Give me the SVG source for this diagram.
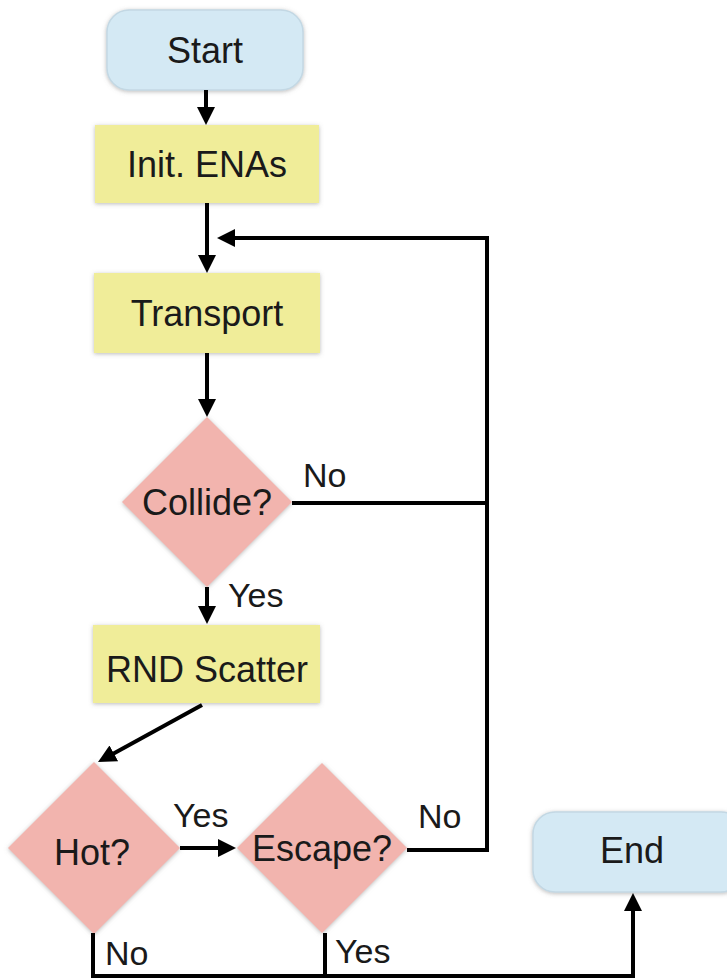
<svg xmlns="http://www.w3.org/2000/svg" width="727" height="980" viewBox="0 0 727 980">
<style>
.t{font-family:"Liberation Sans",Arial,sans-serif;font-size:36px;fill:#1a1a1a;text-anchor:middle}
.l{font-family:"Liberation Sans",Arial,sans-serif;font-size:34px;fill:#1a1a1a}
.term{fill:#d4e9f4;stroke:#c3d8e4;stroke-width:1.5;filter:url(#sh)}
.proc{fill:#f0ed99;filter:url(#sh)}
.dec{fill:#f2b4ae;filter:url(#sh)}
.c{fill:none;stroke:#000;stroke-width:4}
.a{marker-end:url(#ah)}
</style>
<defs>
<filter id="sh" x="-10%" y="-10%" width="120%" height="120%">
<feDropShadow dx="0" dy="1" stdDeviation="2" flood-color="#777" flood-opacity="0.5"/>
</filter>
<marker id="ah" markerUnits="userSpaceOnUse" markerWidth="18" markerHeight="18" viewBox="0 0 18 18" refX="9" refY="9" orient="auto">
<path d="M0,0 L18,9 L0,18 z" fill="#000"/>
</marker>
</defs>
<g id="start"><rect class="term" x="107" y="10" width="196" height="80" rx="22"/><text class="t" x="205" y="63">Start</text></g>
<g id="init"><rect class="proc" x="95" y="125" width="224" height="78"/><text class="t" x="207" y="177">Init. ENAs</text></g>
<g id="transport"><rect class="proc" x="94" y="273" width="226" height="80"/><text class="t" x="207" y="326">Transport</text></g>
<g id="collide"><polygon class="dec" points="207,417 292,502 207,587 122,502"/><text class="t" x="207" y="515">Collide?</text></g>
<g id="scatter"><rect class="proc" x="93" y="625" width="227" height="78"/><text class="t" x="207" y="682">RND Scatter</text></g>
<g id="hot"><polygon class="dec" points="94,762 180,848 94,934 8,848"/><text class="t" x="92" y="865">Hot?</text></g>
<g id="escape"><polygon class="dec" points="322,763 407,848 322,933 237,848"/><text class="t" x="322" y="861">Escape?</text></g>
<g id="end"><rect class="term" x="533" y="812" width="210" height="80" rx="22"/><text class="t" x="632" y="863">End</text></g>
<g id="connectors">
<line class="c a" x1="206" y1="90" x2="206" y2="116"/>
<line class="c a" x1="207" y1="203" x2="207" y2="264"/>
<line class="c a" x1="207" y1="353" x2="207" y2="408"/>
<line class="c a" x1="207" y1="587" x2="207" y2="615"/>
<line class="c a" x1="202" y1="705" x2="105.9" y2="757.7"/>
<line class="c a" x1="180" y1="848" x2="227" y2="848"/>
<path class="c a" d="M407,850 H487 V238 H226"/>
<path class="c" d="M292,503 H487"/>
<path class="c a" d="M93,933 V976 H633 V902"/>
<path class="c" d="M325,933 V976"/>
</g>
<g id="labels">
<text class="l" x="303" y="487">No</text>
<text class="l" x="228" y="607">Yes</text>
<text class="l" x="173" y="827">Yes</text>
<text class="l" x="418" y="828">No</text>
<text class="l" x="105" y="965">No</text>
<text class="l" x="335" y="963">Yes</text>
</g>
</svg>
